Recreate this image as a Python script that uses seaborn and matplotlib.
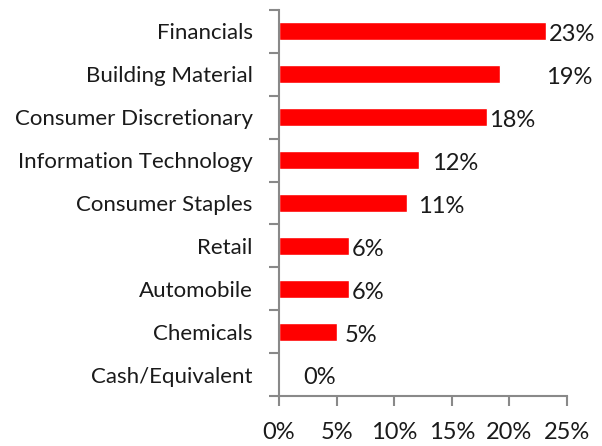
import matplotlib
matplotlib.use("Agg")
import matplotlib.pyplot as plt
import seaborn as sns
import pandas as pd
from matplotlib.ticker import FixedLocator

categories = ["Financials", "Building Material", "Consumer Discretionary",
              "Information Technology", "Consumer Staples", "Retail",
              "Automobile", "Chemicals", "Cash/Equivalent"]
values = [23.2, 19.2, 18.05, 12.15, 11.1, 6.08, 6.08, 5.03, 0.0]
value_labels = ["23%", "19%", "18%", "12%", "11%", "6%", "6%", "5%", "0%"]
label_gap = [0.2, 4.0, 0.15, 1.1, 1.0, 0.25, 0.25, 0.7, 2.1]
x_ticks = [0, 5, 10, 15, 20, 25]
x_tick_labels = ["0%", "5%", "10%", "15%", "20%", "25%"]

df = pd.DataFrame({"cat": categories, "val": values})

sns.set_style("white")
plt.rcParams["font.family"] = ["Lato", "DejaVu Sans"]

fig = plt.figure(figsize=(6.02, 4.46), dpi=100)
ax = fig.add_axes([279 / 602, 1 - 396 / 446, (567 - 279) / 602, (396 - 10) / 446])

sns.barplot(data=df, x="val", y="cat", color="#FF0000", saturation=1,
            width=0.42, ax=ax, orient="h")

for i, (v, lab, g) in enumerate(zip(values, value_labels, label_gap)):
    ax.text(v + g, i + 0.08, lab, va="center", ha="left", fontsize=17,
            color="#1a1a1a")

ax.set_xlim(0, 25)
ax.set_ylim(len(categories) - 0.5, -0.5)
ax.set_xticks(x_ticks)
ax.set_xticklabels(x_tick_labels, fontsize=17, color="#1a1a1a")
ax.set_yticks(range(len(categories)))
ax.set_yticklabels(categories, fontsize=16, color="#1a1a1a")
ax.yaxis.set_minor_locator(FixedLocator([i - 0.5 for i in range(len(categories) + 1)]))
ax.tick_params(axis="y", which="major", left=True, length=0, pad=19)
ax.tick_params(axis="y", which="minor", left=True, length=7, width=1.5,
               color="#898989", direction="out")
ax.tick_params(axis="x", which="major", bottom=True, length=7, width=1.5,
               color="#898989", direction="out", pad=12)
ax.set_xlabel("")
ax.set_ylabel("")
for s in ["top", "right"]:
    ax.spines[s].set_visible(False)
for s in ["left", "bottom"]:
    ax.spines[s].set_color("#898989")
    ax.spines[s].set_linewidth(1.5)

fig.savefig("out.png", dpi=100)
